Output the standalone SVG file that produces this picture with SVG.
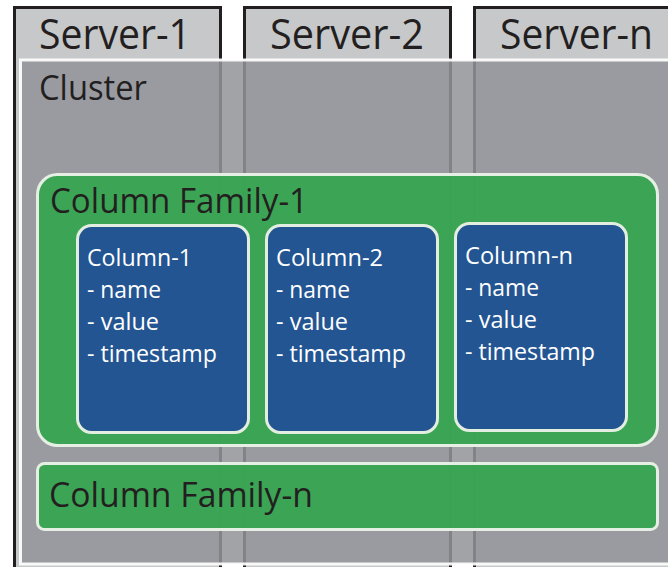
<svg xmlns="http://www.w3.org/2000/svg" width="668" height="567" viewBox="0 0 668 567">
<style>
.srv{fill:#c7c8ca;stroke:#231f20;stroke-width:3}
.hd{font-family:"Open Sans","Noto Sans",sans-serif;fill:#231f20}
.cl{font-family:"Open Sans","Noto Sans",sans-serif;fill:#ffffff;font-size:24px}
.cf{fill:#38a553;fill-opacity:0.97;stroke:#e6efe3;stroke-width:3}
.col{fill:#225395;fill-opacity:0.97;stroke:#e2eedf;stroke-width:3}
</style>
<rect width="668" height="567" fill="#ffffff"/>
<g id="server-1">
<rect class="srv" x="14.5" y="7.5" width="206" height="580"/>
<text class="hd" x="39" y="49" font-size="42" textLength="152" lengthAdjust="spacingAndGlyphs">Server-1</text>
</g>
<g id="server-2">
<rect class="srv" x="244.5" y="7.5" width="206" height="580"/>
<text class="hd" x="270" y="49" font-size="42" textLength="154" lengthAdjust="spacingAndGlyphs">Server-2</text>
</g>
<g id="server-n">
<rect class="srv" x="474.5" y="7.5" width="206" height="580"/>
<text class="hd" x="500" y="49" font-size="42" textLength="153" lengthAdjust="spacingAndGlyphs">Server-n</text>
</g>
<g id="cluster">
<rect x="20.5" y="60" width="660" height="504" fill="#939498" fill-opacity="0.86" stroke="#ffffff" stroke-opacity="0.92" stroke-width="3"/>
<text class="hd" x="39" y="100" font-size="35" textLength="108" lengthAdjust="spacingAndGlyphs">Cluster</text>
</g>
<g id="column-family-1">
<rect class="cf" x="37.5" y="174.5" width="620" height="271" rx="20"/>
<text class="hd" x="50" y="213" font-size="34" textLength="258" lengthAdjust="spacingAndGlyphs">Column Family-1</text>
</g>
<g id="column-family-n">
<rect class="cf" x="37.5" y="463.5" width="620" height="66" rx="7"/>
<text class="hd" x="49" y="507" font-size="34" textLength="264" lengthAdjust="spacingAndGlyphs">Column Family-n</text>
</g>
<g id="column-1">
<rect class="col" x="77.5" y="225.5" width="171" height="207" rx="14"/>
<text class="cl" x="87" y="266" textLength="105" lengthAdjust="spacingAndGlyphs">Column-1</text>
<text class="cl" x="87" y="298" textLength="74" lengthAdjust="spacingAndGlyphs">- name</text>
<text class="cl" x="87" y="330" textLength="72" lengthAdjust="spacingAndGlyphs">- value</text>
<text class="cl" x="87" y="362" textLength="130" lengthAdjust="spacingAndGlyphs">- timestamp</text>
</g>
<g id="column-2">
<rect class="col" x="266.5" y="225.5" width="171" height="207" rx="14"/>
<text class="cl" x="276" y="266" textLength="107" lengthAdjust="spacingAndGlyphs">Column-2</text>
<text class="cl" x="276" y="298" textLength="74" lengthAdjust="spacingAndGlyphs">- name</text>
<text class="cl" x="276" y="330" textLength="72" lengthAdjust="spacingAndGlyphs">- value</text>
<text class="cl" x="276" y="362" textLength="130" lengthAdjust="spacingAndGlyphs">- timestamp</text>
</g>
<g id="column-n">
<rect class="col" x="455.5" y="223.5" width="171" height="207" rx="14"/>
<text class="cl" x="465" y="264" textLength="108" lengthAdjust="spacingAndGlyphs">Column-n</text>
<text class="cl" x="465" y="296" textLength="74" lengthAdjust="spacingAndGlyphs">- name</text>
<text class="cl" x="465" y="328" textLength="72" lengthAdjust="spacingAndGlyphs">- value</text>
<text class="cl" x="465" y="360" textLength="130" lengthAdjust="spacingAndGlyphs">- timestamp</text>
</g>
<g id="connectors"/>
</svg>
